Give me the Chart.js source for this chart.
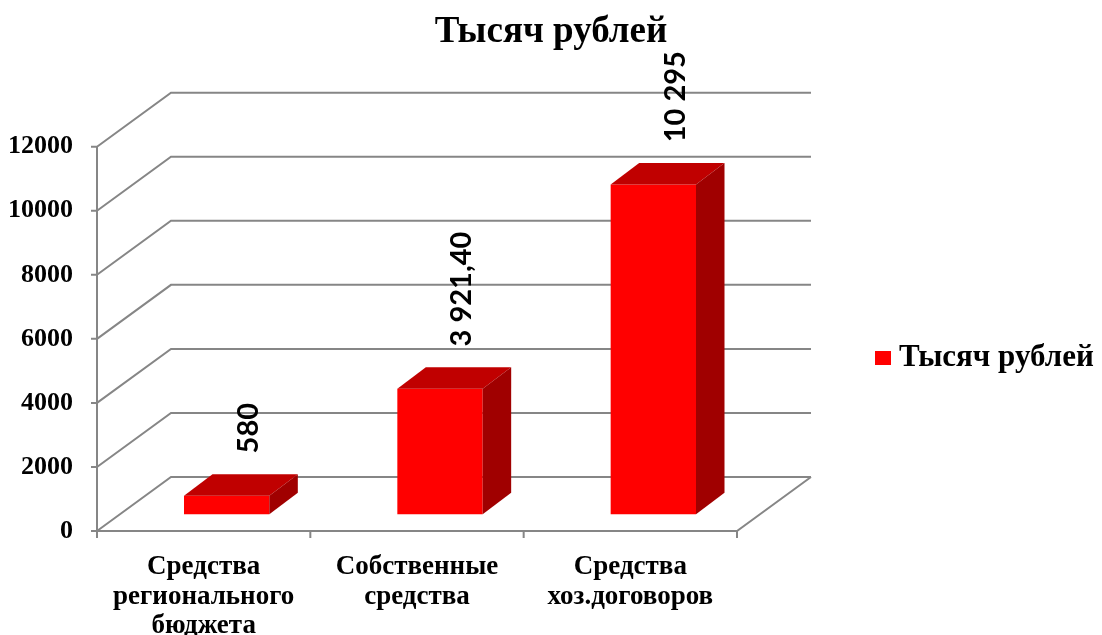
<!DOCTYPE html>
<html>
<head>
<meta charset="utf-8">
<script src="https://cdn.jsdelivr.net/npm/chart.js@4"></script>
<style>
  body { margin: 0; background: #fff; }
  #wrap { width: 1102px; height: 635px; }
</style>
</head>
<body>
<div id="wrap"><canvas id="chart" width="1102" height="635"></canvas></div>
<script>
const categories = [
    ['Средства', 'регионального', 'бюджета'],
    ['Собственные', 'средства'],
    ['Средства', 'хоз.договоров']
];
const values = [580, 3921.4, 10295];
const valueLabels = ['580', '3 921,40', '10 295'];
const seriesName = 'Тысяч рублей';

// 3D look
const depth = {dx: 74, dy: -54};        // floor / wall depth
const barShift = {dx: 23, dy: -16.7};   // bars sit a bit behind the front plane
const barDepth = {dx: 28.5, dy: -21.5};
const gridColor = '#868686';

const serif = "'Liberation Serif', 'Times New Roman', serif";

const plot3d = {
    id: 'plot3d',
    beforeDatasetsDraw(chart) {
        const ctx = chart.ctx;
        const area = chart.chartArea;
        const y = chart.scales.y;
        ctx.save();
        ctx.strokeStyle = gridColor;
        ctx.lineWidth = 2;
        ctx.beginPath();
        // walls: diagonal from front axis then back line
        y.ticks.forEach(t => {
            const py = y.getPixelForValue(t.value);
            ctx.moveTo(area.left, py);
            ctx.lineTo(area.left + depth.dx, py + depth.dy);
            ctx.lineTo(area.right + depth.dx, py + depth.dy);
            // tick mark
            ctx.moveTo(area.left - 6, py);
            ctx.lineTo(area.left, py);
        });
        // front axis
        ctx.moveTo(area.left, area.top);
        ctx.lineTo(area.left, area.bottom);
        // floor front + right edge
        ctx.moveTo(area.left, area.bottom);
        ctx.lineTo(area.right, area.bottom);
        ctx.lineTo(area.right + depth.dx, area.bottom + depth.dy);
        // category ticks
        for (let i = 0; i <= categories.length; i++) {
            const px = area.left + (area.right - area.left) * i / categories.length;
            ctx.moveTo(px, area.bottom);
            ctx.lineTo(px, area.bottom + 7);
        }
        ctx.stroke();
        ctx.restore();

        ctx.save();
        ctx.translate(barShift.dx, barShift.dy);
    },
    afterDatasetsDraw(chart) {
        const ctx = chart.ctx;
        ctx.restore();
        const meta = chart.getDatasetMeta(0);
        ctx.save();
        meta.data.forEach((bar, i) => {
            const L = bar.x - bar.width / 2 + barShift.dx;
            const R = bar.x + bar.width / 2 + barShift.dx;
            const T = bar.y + barShift.dy;
            const B = bar.base + barShift.dy;
            // top face
            ctx.fillStyle = '#C00000';
            ctx.beginPath();
            ctx.moveTo(L, T);
            ctx.lineTo(R, T);
            ctx.lineTo(R + barDepth.dx, T + barDepth.dy);
            ctx.lineTo(L + barDepth.dx, T + barDepth.dy);
            ctx.closePath();
            ctx.fill();
            // side face
            ctx.fillStyle = '#A00000';
            ctx.beginPath();
            ctx.moveTo(R, T);
            ctx.lineTo(R + barDepth.dx, T + barDepth.dy);
            ctx.lineTo(R + barDepth.dx, B + barDepth.dy);
            ctx.lineTo(R, B);
            ctx.closePath();
            ctx.fill();

            // value label, rotated
            ctx.save();
            ctx.translate(bar.x + 45, bar.y - 59);
            ctx.rotate(-Math.PI / 2);
            ctx.fillStyle = '#000';
            ctx.font = "bold 29px Lato, 'Open Sans', sans-serif";
            ctx.textAlign = 'left';
            ctx.textBaseline = 'middle';
            ctx.fillText(valueLabels[i], 0, 0);
            ctx.restore();
        });
        ctx.restore();
    },
    afterDraw(chart) {
        // legend on the right
        const ctx = chart.ctx;
        const ds = chart.data.datasets[0];
        ctx.save();
        ctx.fillStyle = ds.backgroundColor;
        ctx.fillRect(875, 351, 16, 14);
        ctx.fillStyle = '#000';
        ctx.font = 'bold 31px ' + serif;
        ctx.textAlign = 'left';
        ctx.textBaseline = 'middle';
        ctx.fillText(ds.label, 899, 358);
        ctx.restore();
    }
};

new Chart(document.getElementById('chart'), {
    type: 'bar',
    data: {
        labels: categories,
        datasets: [{
            label: seriesName,
            data: values,
            backgroundColor: '#FF0000',
            borderWidth: 0,
            categoryPercentage: 1,
            barPercentage: 0.4,
            clip: false
        }]
    },
    options: {
        responsive: false,
        devicePixelRatio: 1,
        animation: false,
        layout: {
            padding: {left: 8, right: 8, top: 0, bottom: 0}
        },
        scales: {
            y: {
                min: 0,
                max: 12000,
                ticks: {
                    stepSize: 2000,
                    color: '#000',
                    padding: 24,
                    font: {family: serif, size: 26, weight: 'bold'},
                    callback: v => String(v)
                },
                grid: {display: false, drawTicks: false},
                border: {display: false},
                afterFit(scale) { scale.width = 89; }
            },
            // empty space on the right where the legend sits
            side: {
                type: 'linear',
                position: 'right',
                display: true,
                ticks: {display: false},
                grid: {display: false, drawTicks: false},
                border: {display: false},
                afterFit(scale) { scale.width = 357; }
            },
            x: {
                ticks: {
                    color: '#000',
                    padding: 21,
                    maxRotation: 0,
                    autoSkip: false,
                    font: {family: serif, size: 27, weight: 'bold', lineHeight: 1.1}
                },
                grid: {display: false, drawTicks: false},
                border: {display: false},
                afterFit(scale) { scale.height = 104; }
            }
        },
        plugins: {
            title: {
                display: true,
                text: seriesName,
                color: '#000',
                font: {family: serif, size: 37, weight: 'bold', lineHeight: 1.2},
                padding: {top: 10, bottom: 92.3}
            },
            legend: {display: false},
            tooltip: {enabled: false}
        }
    },
    plugins: [plot3d]
});
</script>
</body>
</html>
